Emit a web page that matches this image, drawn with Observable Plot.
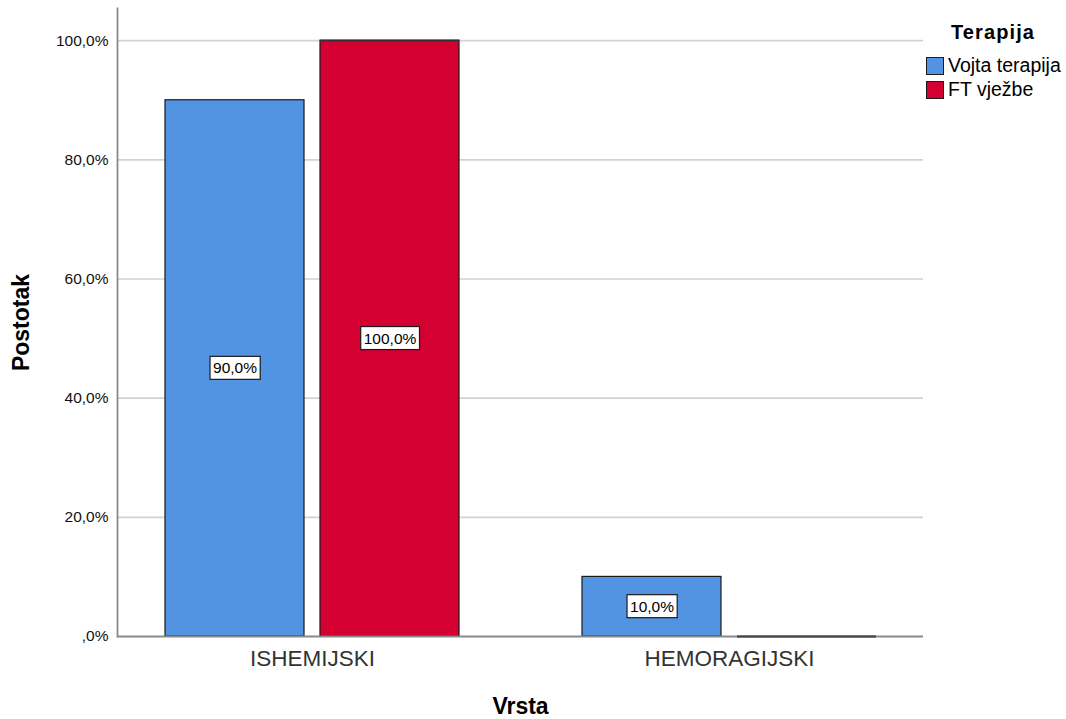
<!DOCTYPE html>
<html>
<head>
<meta charset="utf-8">
<script src="https://cdn.jsdelivr.net/npm/d3@7"></script>
<script src="https://cdn.jsdelivr.net/npm/@observablehq/plot@0.6"></script>
<style>
  html, body { margin: 0; padding: 0; background: #fff; }
  #wrap { position: relative; width: 1066px; height: 719px; font-family: "Liberation Sans", Arial, sans-serif; }
  #legend { position: absolute; left: 926px; top: 20px; color: #000; }
  #legend .title { font-weight: bold; font-size: 20px; margin-left: 25px; letter-spacing: 1.1px; line-height: 24px; height: 24px; margin-bottom: 9.5px; }
  #legend .item { display: flex; align-items: center; height: 24px; font-size: 19.5px; }
  #legend .sw { width: 16px; height: 16px; border: 1px solid #1a1a1a; margin-right: 4px; box-sizing: content-box; }
</style>
</head>
<body>
<div id="wrap"><div id="legend"></div></div>
<script>
const categories = ["ISHEMIJSKI", "HEMORAGIJSKI"];
const seriesNames = ["Vojta terapija", "FT vježbe"];
const vojtaValues = [90, 10];
const ftValues = [100, 0];
const seriesColors = ["#5394e2", "#d50032"];
const yTicks = [0, 20, 40, 60, 80, 100];
const yTickLabels = [",0%", "20,0%", "40,0%", "60,0%", "80,0%", "100,0%"];
const legendTitle = "Terapija";
const xTitle = "Vrsta";
const yTitle = "Postotak";

const vojta = categories.map((c, i) => ({category: c, series: seriesNames[0], value: vojtaValues[i]}));
const ft = categories.map((c, i) => ({category: c, series: seriesNames[1], value: ftValues[i]}));
const fmt = v => v.toFixed(1).replace(".", ",") + "%";
const inset = 155;
const half = 77.5;

const chart = Plot.plot({
  width: 1066,
  height: 719,
  marginLeft: 117,
  marginRight: 143,
  marginTop: 8,
  marginBottom: 83,
  style: {fontFamily: "'Liberation Sans', Arial, sans-serif", background: "#fff"},
  x: {domain: categories, paddingInner: 0.2956, paddingOuter: 0.1137, label: null},
  y: {domain: [0, 105.4], label: null},
  color: {domain: seriesNames, range: seriesColors},
  marks: [
    Plot.ruleY(yTicks.filter(t => t > 0), {stroke: "#d2d2d2", strokeWidth: 1.6}),
    Plot.barY(vojta, {x: "category", y: "value", fill: "series", stroke: "#1a1a1a", strokeWidth: 1.2, insetRight: inset}),
    Plot.barY(ft, {x: "category", y: "value", fill: "series", stroke: "#1a1a1a", strokeWidth: 1.2, insetLeft: inset}),
    Plot.tickY(ft, {x: "category", y: "value", stroke: "#333", strokeWidth: 1.6, insetLeft: inset}),
    Plot.ruleY([0], {stroke: "#8a8a8a", strokeWidth: 1.8}),
    Plot.frame({anchor: "left", stroke: "#8a8a8a", strokeWidth: 1.8}),
    Plot.tickY(ft.filter(d => d.value === 0), {x: "category", y: "value", stroke: "#444", strokeWidth: 1.8, insetLeft: inset}),
    Plot.axisY({ticks: yTicks, tickFormat: (d) => yTickLabels[yTicks.indexOf(d)], tickSize: 0, tickPadding: 9, fontSize: 15.5, label: null, fill: "#111"}),
    Plot.axisX({tickSize: 0, tickPadding: 14, fontSize: 22.5, label: null, fill: "#333"}),
    Plot.text(vojta.filter(d => d.value > 0), {x: "category", y: d => d.value / 2, text: d => fmt(d.value), dx: -half, fontSize: 15.5, fill: "#000"}),
    Plot.text(ft.filter(d => d.value > 0), {x: "category", y: d => d.value / 2, text: d => fmt(d.value), dx: half, fontSize: 15.5, fill: "#000"}),
    Plot.text([yTitle], {frameAnchor: "left", textAnchor: "middle", lineAnchor: "middle", rotate: -90, dx: -96, fontSize: 23, fontWeight: "bold", fill: "#000"}),
    Plot.text([xTitle], {frameAnchor: "bottom", textAnchor: "middle", lineAnchor: "middle", dy: 70, fontSize: 23, fontWeight: "bold", fill: "#000"})
  ]
});

const wrap = document.getElementById("wrap");
wrap.insertBefore(chart, wrap.firstChild);

// white boxes behind value labels
const labelGroups = Array.from(chart.querySelectorAll('g[aria-label="text"]')).slice(0, 2);
labelGroups.forEach(g => {
  g.querySelectorAll("text").forEach(t => {
    const b = t.getBBox();
    const r = document.createElementNS("http://www.w3.org/2000/svg", "rect");
    r.setAttribute("x", b.x - 3);
    r.setAttribute("y", b.y - 3);
    r.setAttribute("width", b.width + 6);
    r.setAttribute("height", b.height + 6);
    r.setAttribute("fill", "#fff");
    r.setAttribute("stroke", "#1a1a1a");
    r.setAttribute("stroke-width", "1.2");
    const tr = t.getAttribute("transform");
    if (tr) r.setAttribute("transform", tr);
    t.parentNode.insertBefore(r, t);
  });
});

// legend
const legend = document.getElementById("legend");
const title = document.createElement("div");
title.className = "title";
title.textContent = legendTitle;
legend.appendChild(title);
seriesNames.forEach((s, i) => {
  const item = document.createElement("div");
  item.className = "item";
  const sw = document.createElement("div");
  sw.className = "sw";
  sw.style.background = seriesColors[i];
  const lab = document.createElement("span");
  lab.textContent = s;
  item.appendChild(sw);
  item.appendChild(lab);
  legend.appendChild(item);
});
</script>
</body>
</html>
